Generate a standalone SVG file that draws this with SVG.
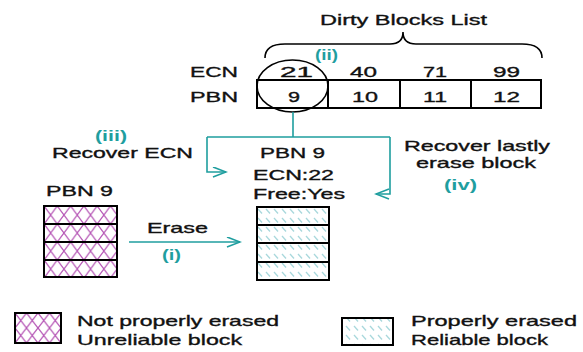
<svg xmlns="http://www.w3.org/2000/svg" width="583" height="352" viewBox="0 0 583 352">
<style>
text{font-family:"Liberation Sans",Arial,sans-serif;font-size:15px;fill:#111;stroke:#111;stroke-width:0.35}
.t{fill:#1f9e9f;stroke:none;font-weight:bold;font-size:14px}
.b{fill:none;stroke:#000;stroke-width:2}
.c{fill:none;stroke:#1f9e9f;stroke-width:1.6}
</style>
<defs>
<pattern id="xh" patternUnits="userSpaceOnUse" x="44" y="206" width="13.3" height="18">
<path d="M0,0 L13.3,18 M13.3,0 L0,18" stroke="#b658b6" stroke-width="1.3" fill="none"/>
</pattern>
<pattern id="xh2" patternUnits="userSpaceOnUse" x="15" y="313" width="11.5" height="15">
<path d="M0,0 L11.5,15 M11.5,0 L0,15" stroke="#b658b6" stroke-width="1.3" fill="none"/>
</pattern>
<pattern id="dh" patternUnits="userSpaceOnUse" x="257" y="207" width="8" height="9">
<path d="M1,2 L5,6.5" stroke="#a8d8dc" stroke-width="1.3" fill="none"/>
</pattern>
<marker id="ah" markerUnits="userSpaceOnUse" markerWidth="16" markerHeight="12" refX="14" refY="5.5" orient="auto">
<path d="M1,0.5 L14,5.5 L1,10.5" fill="none" stroke="#1f9e9f" stroke-width="1.6"/>
</marker>
</defs>
<rect width="583" height="352" fill="#fff"/>

<g id="dirty-blocks-list">
<text x="320" y="25" textLength="167" lengthAdjust="spacingAndGlyphs">Dirty Blocks List</text>
<path d="M265,58 C265,48 272,44 285,44 L390,44 C398,44 403,40 403,32 C403,40 408,44 416,44 L522,44 C535,44 542,48 542,58" fill="none" stroke="#000" stroke-width="1.6"/>
<text x="190" y="77" textLength="48" lengthAdjust="spacingAndGlyphs">ECN</text>
<text x="190" y="102" textLength="48" lengthAdjust="spacingAndGlyphs">PBN</text>
<rect class="b" x="257" y="80" width="284" height="28"/>
<path class="b" d="M328,80 V108 M400,80 V108 M471,80 V108"/>
<text x="280" y="77" textLength="33" lengthAdjust="spacingAndGlyphs">21</text>
<text x="350" y="77" textLength="27" lengthAdjust="spacingAndGlyphs">40</text>
<text x="423" y="77" textLength="24" lengthAdjust="spacingAndGlyphs">71</text>
<text x="493" y="77" textLength="27" lengthAdjust="spacingAndGlyphs">99</text>
<text x="288" y="102" textLength="12" lengthAdjust="spacingAndGlyphs">9</text>
<text x="352" y="102" textLength="26" lengthAdjust="spacingAndGlyphs">10</text>
<text x="423" y="102" textLength="24" lengthAdjust="spacingAndGlyphs">11</text>
<text x="493" y="102" textLength="27" lengthAdjust="spacingAndGlyphs">12</text>
<ellipse cx="292.5" cy="86" rx="35.5" ry="26" fill="none" stroke="#000" stroke-width="1.6"/>
<text class="t" x="315" y="60" textLength="23" lengthAdjust="spacingAndGlyphs">(ii)</text>
</g>

<g id="connectors">
<path class="c" d="M293,112 V137 M207,137 H390"/>
<path class="c" d="M207,137 V172 H226" marker-end="url(#ah)"/>
<path class="c" d="M390,137 V194 H376" marker-end="url(#ah)"/>
<path class="c" d="M129,242 H240" marker-end="url(#ah)"/>
</g>

<g id="labels">
<text class="t" x="95" y="141" textLength="32" lengthAdjust="spacingAndGlyphs">(iii)</text>
<text x="52" y="158" textLength="141" lengthAdjust="spacingAndGlyphs">Recover ECN</text>
<text x="147" y="233" textLength="61" lengthAdjust="spacingAndGlyphs">Erase</text>
<text class="t" x="162" y="260" textLength="19" lengthAdjust="spacingAndGlyphs">(i)</text>
<text x="404" y="151" textLength="146" lengthAdjust="spacingAndGlyphs">Recover lastly</text>
<text x="416" y="168" textLength="120" lengthAdjust="spacingAndGlyphs">erase block</text>
<text class="t" x="444" y="190" textLength="33" lengthAdjust="spacingAndGlyphs">(iv)</text>
</g>

<g id="old-block">
<text x="46" y="196" textLength="67" lengthAdjust="spacingAndGlyphs">PBN 9</text>
<rect x="44" y="206" width="73" height="71" fill="url(#xh)"/>
<rect class="b" x="44" y="206" width="73" height="71"/>
<path class="b" d="M44,224 H117 M44,242 H117 M44,260 H117"/>
</g>

<g id="new-block">
<text x="260" y="158" textLength="65" lengthAdjust="spacingAndGlyphs">PBN 9</text>
<text x="253" y="180" textLength="81" lengthAdjust="spacingAndGlyphs">ECN:22</text>
<text x="253" y="199" textLength="92" lengthAdjust="spacingAndGlyphs">Free:Yes</text>
<rect x="257" y="207" width="72" height="73" fill="url(#dh)"/>
<rect class="b" x="257" y="207" width="72" height="73"/>
<path class="b" d="M257,225 H329 M257,243 H329 M257,262 H329"/>
</g>

<g id="legend">
<rect x="15" y="313" width="46" height="30" fill="url(#xh2)"/>
<rect class="b" x="15" y="313" width="46" height="30"/>
<text x="77" y="326" textLength="202" lengthAdjust="spacingAndGlyphs">Not properly erased</text>
<text x="77" y="345" textLength="165" lengthAdjust="spacingAndGlyphs">Unreliable block</text>
<rect x="342" y="318" width="51" height="27" fill="url(#dh)"/>
<rect class="b" x="342" y="318" width="51" height="27"/>
<text x="411" y="326" textLength="166" lengthAdjust="spacingAndGlyphs">Properly erased</text>
<text x="411" y="345" textLength="137" lengthAdjust="spacingAndGlyphs">Reliable block</text>
</g>
</svg>
